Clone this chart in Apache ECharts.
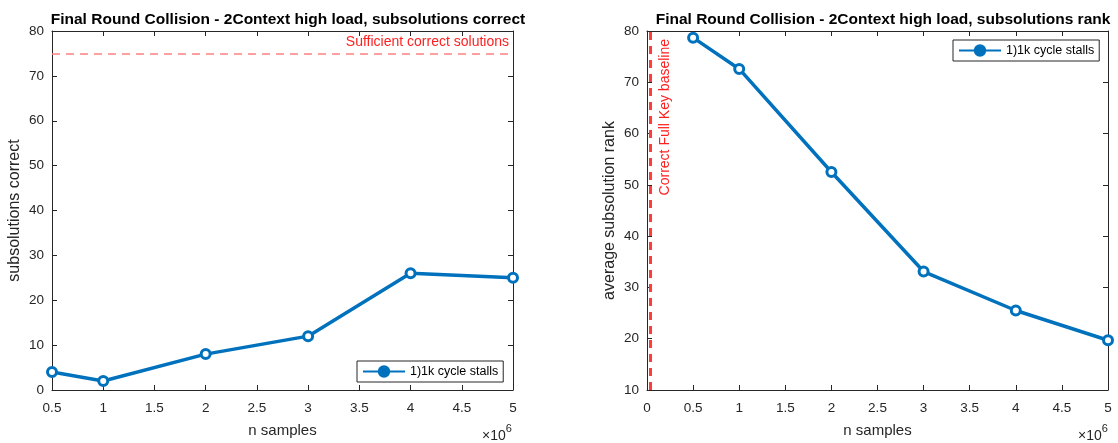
<!DOCTYPE html>
<html>
<head>
<meta charset="utf-8">
<script src="https://cdn.jsdelivr.net/npm/echarts@6/dist/echarts.min.js"></script>
<style>
html,body{margin:0;padding:0;background:#fff;}
#chart{width:1118px;height:443px;}
</style>
</head>
<body>
<div id="chart"></div>
<script>
// ---- data ----
const nSamples = [500000, 1000000, 2000000, 3000000, 4000000, 5000000];
const subsolutionsCorrect = [4, 2, 8, 12, 26, 25];
const avgSubsolutionRank = [78.7, 72.6, 52.5, 33.1, 25.5, 19.7];
const seriesName = '1)1k cycle stalls';
const sufficientCorrect = 75;
const baselineX = 30000;
const titles = [
  'Final Round Collision - 2Context high load, subsolutions correct',
  'Final Round Collision - 2Context high load, subsolutions rank'
];

const FONT = 'Liberation Sans, Arial, Helvetica, sans-serif';
const AX = '#262626';
const BLUE = '#0072BD';

const chart = echarts.init(document.getElementById('chart'), null, {renderer: 'canvas'});

function pairs(xs, ys) { return xs.map((x, i) => [x, ys[i]]); }

function mainX(min, gi) {
  return {
    type: 'value', gridIndex: gi, min: min, max: 5000000, interval: 500000,
    position: 'bottom',
    name: 'n samples', nameLocation: 'middle', nameGap: 33,
    nameTextStyle: {fontFamily: FONT, fontSize: 15, color: AX},
    axisLine: {show: true, onZero: false, lineStyle: {color: AX, width: 1}},
    axisTick: {show: true, inside: true, length: 5, lineStyle: {color: AX}},
    axisLabel: {fontFamily: FONT, fontSize: 13.5, color: AX, margin: 11,
      formatter: v => String(+(v / 1e6).toFixed(1))},
    splitLine: {show: false}
  };
}
function topX(min, gi) {
  return {
    type: 'value', gridIndex: gi, min: min, max: 5000000, interval: 500000,
    position: 'top',
    axisLine: {show: true, onZero: false, lineStyle: {color: AX, width: 1}},
    axisTick: {show: true, inside: true, length: 5, lineStyle: {color: AX}},
    axisLabel: {show: false}, splitLine: {show: false}
  };
}
function mainY(gi, min, name) {
  return {
    type: 'value', gridIndex: gi, min: min, max: 80, interval: 10,
    position: 'left',
    name: name, nameLocation: 'middle', nameGap: 29, nameRotate: 90,
    nameTextStyle: {fontFamily: FONT, fontSize: 16, color: AX},
    axisLine: {show: true, onZero: false, lineStyle: {color: AX, width: 1}},
    axisTick: {show: true, inside: true, length: 5, lineStyle: {color: AX}},
    axisLabel: {fontFamily: FONT, fontSize: 13.5, color: AX, margin: 8},
    splitLine: {show: false}
  };
}
function rightY(gi, min) {
  return {
    type: 'value', gridIndex: gi, min: min, max: 80, interval: 10,
    position: 'right',
    axisLine: {show: true, onZero: false, lineStyle: {color: AX, width: 1}},
    axisTick: {show: true, inside: true, length: 5, lineStyle: {color: AX}},
    axisLabel: {show: false}, splitLine: {show: false}
  };
}

function lineSeries(xi, yi, data, markLine) {
  return {
    type: 'line', name: seriesName, xAxisIndex: xi, yAxisIndex: yi,
    data: data,
    symbol: 'circle', symbolSize: 9,
    lineStyle: {color: BLUE, width: 3.5},
    itemStyle: {color: '#ffffff', borderColor: BLUE, borderWidth: 3},
    emphasis: {disabled: true},
    markLine: markLine,
    z: 3
  };
}

function legendAt(left, top) {
  return {data: [seriesName], left: left, top: top, orient: 'vertical',
    itemWidth: 42, itemHeight: 13, padding: [4, 5, 4, 5],
    borderColor: AX, borderWidth: 1, backgroundColor: '#fff',
    itemStyle: {color: BLUE, borderColor: BLUE},
    textStyle: {fontFamily: FONT, fontSize: 12.5, color: '#000'}, selectedMode: false};
}

function expText(left) {
  return {type: 'text', left: left, top: 423,
    style: {text: '{a|×10}{b|6}', rich: {
      a: {fontFamily: FONT, fontSize: 14, fill: AX, verticalAlign: 'bottom', padding: [6, 0, 0, 0]},
      b: {fontFamily: FONT, fontSize: 11, fill: AX, verticalAlign: 'top', padding: [0, 0, 6, 0]}}}};
}

const option = {
  animation: false,
  backgroundColor: '#ffffff',
  title: [
    {text: titles[0], left: 283, top: 7, textAlign: 'center',
      textStyle: {fontFamily: FONT, fontSize: 15.5, fontWeight: 'bold', color: '#000'}},
    {text: titles[1], left: 878, top: 7, textAlign: 'center',
      textStyle: {fontFamily: FONT, fontSize: 15.5, fontWeight: 'bold', color: '#000'}}
  ],
  grid: [
    {left: 52, top: 31, width: 461, height: 363},
    {left: 647, top: 31, width: 461, height: 363}
  ],
  legend: [legendAt(357, 361), legendAt(953, 40)],
  xAxis: [mainX(500000, 0), topX(500000, 0), mainX(0, 1), topX(0, 1)],
  yAxis: [mainY(0, 0, 'subsolutions correct'), rightY(0, 0),
          mainY(1, 10, 'average subsolution rank'), rightY(1, 10)],
  series: [
    lineSeries(0, 0, pairs(nSamples, subsolutionsCorrect), {
      silent: true, symbol: ['none', 'none'],
      lineStyle: {color: '#ff8080', type: [8, 6], width: 1.5},
      label: {show: true, position: 'insideEndTop', formatter: 'Sufficient correct solutions',
        fontFamily: FONT, fontSize: 14, color: '#ff2020', distance: 4},
      data: [{yAxis: sufficientCorrect}]
    }),
    lineSeries(2, 2, pairs(nSamples, avgSubsolutionRank), {
      silent: true, symbol: ['none', 'none'],
      lineStyle: {color: '#ff3c3c', type: [8, 6], width: 3},
      label: {show: true, position: 'insideEndBottom', formatter: 'Correct Full Key baseline',
        fontFamily: FONT, fontSize: 14, color: '#ff2020', distance: 8},
      data: [{xAxis: baselineX}]
    })
  ],
  graphic: [expText(482), expText(1078)]
};
chart.setOption(option);
</script>
</body>
</html>
